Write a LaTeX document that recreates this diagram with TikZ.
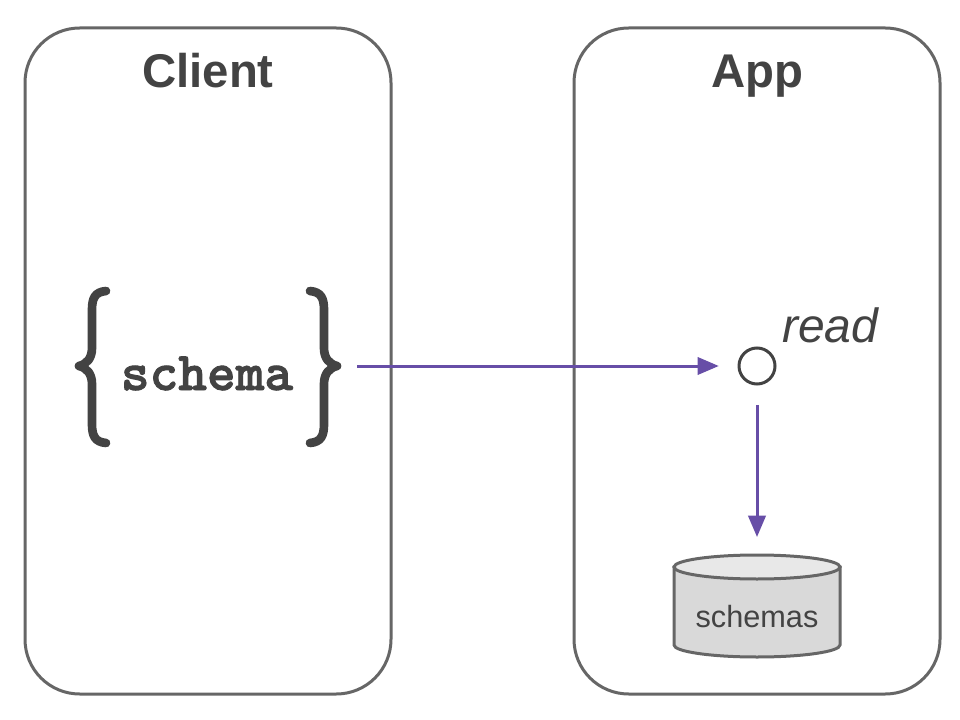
\documentclass[tikz,border=0pt]{standalone}
\usepackage{fontspec}
\setmainfont{Liberation Sans}
\newfontfamily\codefont[FakeBold=1.6]{lmmonolt10-bold.otf}
\usetikzlibrary{arrows.meta}
\definecolor{txt}{HTML}{434343}
\definecolor{frame}{HTML}{666666}
\definecolor{arr}{HTML}{674EA7}
\definecolor{dbbody}{HTML}{D9D9D9}
\definecolor{dbtop}{HTML}{E8E8E8}
\tikzset{
  panel/.style={draw=frame, line width=2.25pt, rounded corners=41pt,
    minimum width=274.5pt, minimum height=499.5pt},
  title/.style={text=txt, font=\fontsize{35.5}{40}\selectfont\bfseries, inner sep=0pt},
  brace/.style={draw=txt, line width=6.5pt, line cap=round, line join=round},
  flow/.style={draw=arr, line width=2.25pt, -{Triangle[length=16pt,width=13pt]}},
  port/.style={circle, draw=txt, line width=2.25pt, minimum size=27pt, inner sep=0pt},
}
\begin{document}
\begin{tikzpicture}[x=0.75pt, y=-0.75pt]
\useasboundingbox (0,0) rectangle (960,720);
% panels
\node[panel] (client) at (208,361) {};
\node[panel] (app) at (757,361) {};
\node[title, anchor=base] (clientT) at (208,88) {Client};
\node[title, anchor=base] (appT) at (757,88) {App};
% braces
\path[brace] (106,291) .. controls (95,292) and (92,298) .. (92,310) -- (92,348)
  .. controls (92,358) and (87,364) .. (79,366) .. controls (87,368) and (92,374) .. (92,384)
  -- (92,424) .. controls (92,436) and (95,442) .. (106,443);
\path[brace] (310,291) .. controls (321,292) and (324,298) .. (324,310) -- (324,348)
  .. controls (324,358) and (329,364) .. (337,366) .. controls (329,368) and (324,374) .. (324,384)
  -- (324,424) .. controls (324,436) and (321,442) .. (310,443);
\node[text=txt, font=\codefont\fontsize{41}{44}\selectfont, inner sep=0pt, anchor=base] (schema) at (207,390) {schema};
\coordinate (src) at (357,366);
% port
\node[port] (rd) at (757,366) {};
\node[text=txt, font=\fontsize{36}{40}\selectfont\itshape, inner sep=0pt, anchor=base west] (readT) at (782,342) {read};
% database
\path[fill=dbbody, draw=frame, line width=2.25pt] (674,567) -- (674,645) arc (180:0:83 and 12) -- (840,567) -- cycle;
\path[fill=dbtop, draw=frame, line width=2.25pt] (757,567) ellipse (83 and 12);
\coordinate (dbT) at (757,555);
\node[text=txt, font=\fontsize{23}{26}\selectfont, inner sep=0pt, anchor=base] (db) at (757,627) {schemas};
% connectors
\draw[flow, shorten >=14pt] (src) -- (rd);
\draw[flow, shorten <=14.5pt, shorten >=13.5pt] (rd) -- (dbT);
\end{tikzpicture}
\end{document}
